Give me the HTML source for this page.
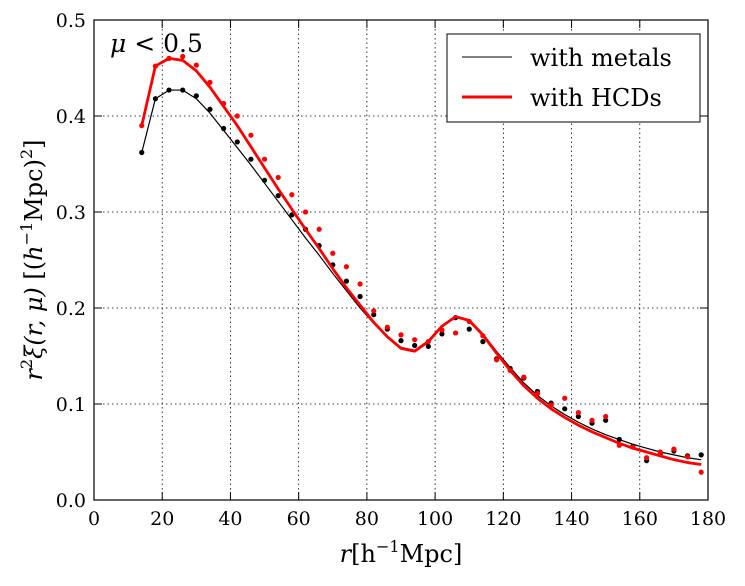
<!DOCTYPE html>
<html><head><meta charset="utf-8"><style>
body{margin:0;background:#fff;}
svg{font-family:"DejaVu Serif","Liberation Serif",serif;}
</style></head><body>
<svg id="chart" width="745" height="581" viewBox="0 0 745 581">
<g id="grid"></g>
<g id="series"></g>
<rect x="94" y="20" width="614" height="480" fill="none" stroke="#000" stroke-width="1.2"/>
<g id="ticks"></g>
<text x="110" y="52" font-size="25" font-style="italic">μ<tspan font-style="normal"> &lt; 0.5</tspan></text>
<g>
<rect x="447" y="34" width="253" height="88" fill="#fff" stroke="#000" stroke-width="1"/>
<line x1="462" y1="57" x2="512" y2="57" stroke="#000" stroke-width="1"/>
<text x="530" y="66" font-size="24">with metals</text>
<line x1="462" y1="97" x2="512" y2="97" stroke="#f00" stroke-width="3"/>
<text x="530" y="106" font-size="24">with HCDs</text>
</g>
<text x="401" y="562" font-size="24" text-anchor="middle"><tspan font-style="italic">r</tspan>[h<tspan font-size="16" dy="-10">−1</tspan><tspan dy="10">Mpc]</tspan></text>
<text transform="translate(42,260) rotate(-90)" font-size="24" text-anchor="middle"><tspan font-style="italic">r</tspan><tspan font-size="16" dy="-10">2</tspan><tspan dy="10" font-style="italic">ξ(r, μ)</tspan> [(<tspan font-style="italic">h</tspan><tspan font-size="16" dy="-10">−1</tspan><tspan dy="10">Mpc)</tspan><tspan font-size="16" dy="-10">2</tspan><tspan dy="10">]</tspan></text>
</svg>
<script>
const rVals=[14,18,22,26,30,34,38,42,46,50,54,58,62,66,70,74,78,82,86,90,94,98,102,106,110,114,118,122,126,130,134,138,142,146,150,154,158,162,166,170,174,178];
const metalsData=[0.362,0.418,0.427,0.427,0.421,0.407,0.387,0.373,0.355,0.333,0.317,0.297,0.282,0.265,0.245,0.228,0.212,0.193,0.178,0.166,0.161,0.160,0.173,0.190,0.178,0.165,0.147,0.137,0.127,0.113,0.101,0.095,0.087,0.080,0.083,0.063,0.056,0.041,0.048,0.051,0.046,0.047];
const hcdData=[0.390,0.452,0.460,0.462,0.453,0.435,0.413,0.400,0.380,0.355,0.336,0.318,0.300,0.282,0.257,0.243,0.225,0.197,0.180,0.172,0.167,0.165,0.177,0.174,0.186,0.171,0.146,0.135,0.128,0.111,0.099,0.106,0.091,0.083,0.087,0.057,0.055,0.044,0.050,0.053,0.045,0.029];
const metalsModel=[0.362,0.418,0.427,0.427,0.418,0.403,0.385,0.367,0.349,0.330,0.311,0.292,0.273,0.255,0.236,0.218,0.200,0.184,0.170,0.159,0.156,0.166,0.181,0.190,0.187,0.173,0.155,0.138,0.122,0.109,0.098,0.089,0.081,0.074,0.068,0.063,0.058,0.054,0.050,0.047,0.044,0.042];
const hcdModel=[0.390,0.452,0.460,0.458,0.447,0.430,0.410,0.390,0.368,0.346,0.324,0.303,0.282,0.262,0.241,0.221,0.203,0.185,0.170,0.158,0.155,0.165,0.181,0.191,0.187,0.172,0.153,0.135,0.119,0.106,0.095,0.086,0.078,0.071,0.065,0.059,0.054,0.050,0.046,0.042,0.039,0.037];
const xTicks=[0,20,40,60,80,100,120,140,160,180];
const yTicks=[0.0,0.1,0.2,0.3,0.4,0.5];
const NS="http://www.w3.org/2000/svg";
const X=v=>94+v*614/180, Y=v=>500-v*960;
function mk(t,a,p){const e=document.createElementNS(NS,t);for(const k in a)e.setAttribute(k,a[k]);p.appendChild(e);return e;}
const grid=document.getElementById('grid'),ticks=document.getElementById('ticks'),ser=document.getElementById('series');
xTicks.forEach(v=>{
 if(v>0&&v<180){const g=mk('line',{x1:X(v),x2:X(v),y1:20,y2:500,stroke:'#000','stroke-dasharray':'1.5,3','stroke-width':0.8},grid);
 
 }
 const t1=mk('line',{x1:X(v),x2:X(v),y1:500,y2:492,stroke:'#000'},ticks);
 
 
 const t2=mk('line',{x1:X(v),x2:X(v),y1:20,y2:28,stroke:'#000'},ticks);
 
 
 const l=mk('text',{x:X(v),y:525,'font-size':19,'text-anchor':'middle'},ticks);l.textContent=v;
 
 
});
yTicks.forEach(v=>{
 if(v>0&&v<0.5){const g=mk('line',{x1:94,x2:708,y1:Y(v),y2:Y(v),stroke:'#000','stroke-dasharray':'1.5,3','stroke-width':0.8},grid);
 
 }
 const t1=mk('line',{x1:94,x2:102,y1:Y(v),y2:Y(v),stroke:'#000'},ticks);
 
 
 const t2=mk('line',{x1:700,x2:708,y1:Y(v),y2:Y(v),stroke:'#000'},ticks);
 
 
 const l=mk('text',{x:86,y:Y(v)+7,'font-size':19,'text-anchor':'end'},ticks);l.textContent=v.toFixed(1);
 
 
});
function line(d,c,w,n){const p=mk('polyline',{points:d.map((v,i)=>X(rVals[i])+','+Y(v)).join(' '),fill:'none',stroke:c,'stroke-width':w,'stroke-linejoin':'round'},ser);
 
 }
function dots(d,c,n){d.forEach((v,i)=>{const e=mk('circle',{cx:X(rVals[i]),cy:Y(v),r:2.6,fill:c},ser);
 
 });}
line(metalsModel,'#000',1.2,'metals-model-line');
dots(metalsData,'#000','metals-data-point');
line(hcdModel,'#f00',2.8,'hcd-model-line');
dots(hcdData,'#f00','hcd-data-point');
</script>
</body></html>
